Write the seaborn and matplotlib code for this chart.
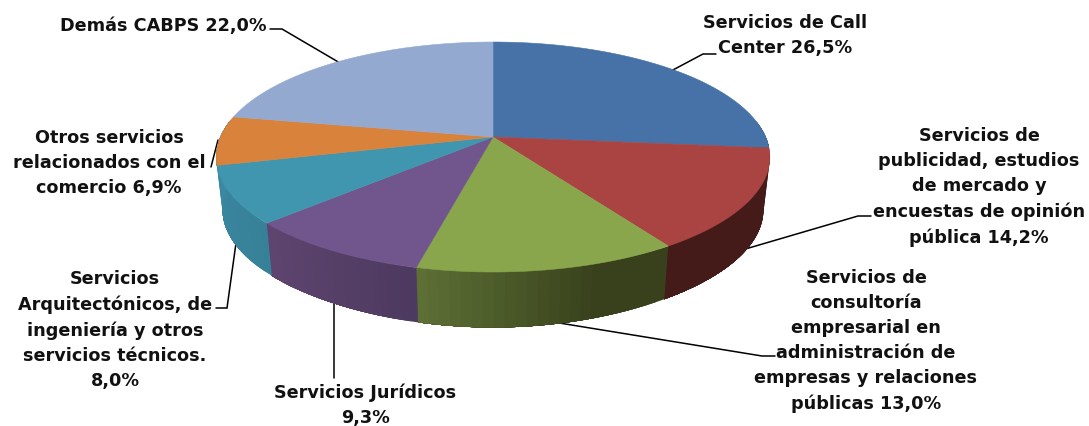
import numpy as np
import matplotlib
matplotlib.use("Agg")
import matplotlib.pyplot as plt
import seaborn as sns

categories = ["Servicios de Call\nCenter 26,5%",
              "Servicios de\npublicidad, estudios\nde mercado y\nencuestas de opinión\npública 14,2%",
              "Servicios de\nconsultoría\nempresarial en\nadministración de\nempresas y relaciones\npúblicas 13,0%",
              "Servicios Jurídicos\n9,3%",
              "Servicios\nArquitectónicos, de\ningeniería y otros\nservicios técnicos.\n8,0%",
              "Otros servicios\nrelacionados con el\ncomercio 6,9%",
              "Demás CABPS 22,0%"]
values = [26.5, 14.2, 13.0, 9.3, 8.0, 6.9, 22.0]
top_colors = ["#4672A8", "#A94442", "#8AA64D", "#71568D", "#4096AE", "#D9823B", "#93A9CF"]
wall_start = ["#2F4D73", "#451B1A", "#38411C", "#4D3A60", "#378198", "#A8642C", "#6F82A0"]
wall_end = ["#2F4D73", "#451B1A", "#5F7236", "#5F4570", "#3D8CA4", "#A8642C", "#6F82A0"]
label_pos = [(785, 36), (979, 187), (866, 341), (365, 405), (115, 330), (109, 163), (163, 26)]
leaders = [[(671, 71), (703, 54), (716, 54)],
           [(742, 250), (858, 216), (871, 216)],
           [(547, 321), (762, 356), (775, 356)],
           [(334, 301), (334, 378)],
           [(236, 243), (227, 308), (216, 308)],
           [(218, 140), (211, 167)],
           [(270, 29), (282, 29), (340, 63)]]

sns.set_style("white")
plt.rcParams["font.family"] = ["DejaVu Sans"]

CX, CY, A, B, K, DEPTH, SHRINK = 493, 137, 111.5, 272.6, 0.174, 52.5, 0.977


def rim(theta):
    """Perspective projection of a unit-circle point; theta clockwise from top."""
    u, v = np.sin(theta), np.cos(theta)
    d = 1 + K * v
    return CX + B * u / d, CY - A * v / d


def lower(theta):
    x, y = rim(theta)
    return CX + (x - CX) * SHRINK, y + DEPTH + 3 * np.clip(-np.cos(theta), 0, 1) ** 8


fig, ax = plt.subplots(figsize=(10.89, 4.26), dpi=100)
fig.subplots_adjust(0, 0, 1, 1)
ax.set_xlim(0, 1089)
ax.set_ylim(426, 0)
ax.axis("off")

edges = np.radians(np.cumsum([0] + values) / sum(values) * 360)
palette = sns.color_palette(top_colors)
starts = np.array(sns.color_palette(wall_start))
ends = np.array(sns.color_palette(wall_end))

# side walls (front half only): each strip overpaints the rest of its slice
for i in range(5):
    a0 = max(edges[i], np.pi / 2 - 0.15)
    a1 = edges[i + 1] if i < 4 else 3 * np.pi / 2 + 0.15
    if a1 <= a0:
        continue
    n = 24
    ts = np.linspace(a0, a1, n + 1)
    for j in range(n):
        f = j / n
        if i == 2:
            f = max(0.0, (f - 0.3) / 0.7)
        c = starts[i] + (ends[i] - starts[i]) * f
        tt = np.linspace(ts[j], a1, 60)
        xt, yt = rim(tt)
        xb, yb = lower(tt)
        ax.fill(np.r_[xt, xb[::-1]], np.r_[yt, yb[::-1]], color=c, lw=0, zorder=2)

# top surface
for i in range(len(values)):
    tt = np.linspace(edges[i], edges[i + 1], 200)
    x, y = rim(tt)
    ax.fill(np.r_[CX, x], np.r_[CY, y], color=palette[i], lw=0.4, zorder=3)

# leaders (behind the pie) and labels
for pts, label, (lx, ly) in zip(leaders, categories, label_pos):
    px, py = zip(*pts)
    ax.plot(px, py, color="black", lw=1.1, zorder=1, solid_joinstyle="miter")
    ax.text(lx, ly, label, ha="center", va="center", fontsize=12.7, fontweight="bold",
            color="#111111", linespacing=1.5, zorder=5)

fig.savefig("out.png", dpi=100)
